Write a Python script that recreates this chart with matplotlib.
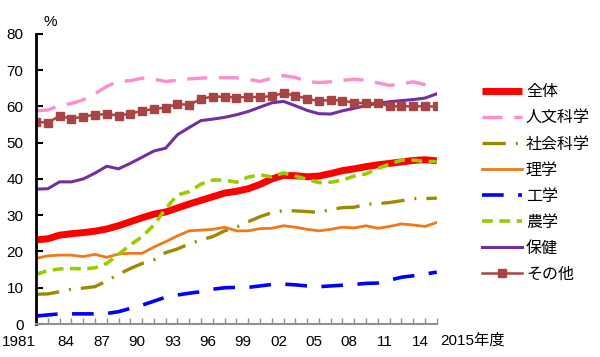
import matplotlib
matplotlib.use("Agg")
import matplotlib.pyplot as plt
import matplotlib.transforms as mtransforms
import numpy as np

plt.rcParams['font.family'] = ['Liberation Sans', 'Noto Sans CJK JP', 'DejaVu Sans']

# --- data ---
years = list(range(1981, 2016))

zentai = [23.2, 23.5, 24.5, 24.9, 25.2, 25.6, 26.2, 27.1, 28.2, 29.3,
          30.3, 30.9, 32.0, 33.1, 34.1, 35.1, 36.1, 36.6, 37.3, 38.5,
          40.0, 41.0, 40.9, 40.6, 40.8, 41.5, 42.3, 42.8, 43.4, 43.9,
          44.3, 44.7, 45.1, 45.3, 45.0]
jinbun = [58.8, 59.0, 60.3, 60.8, 61.8, 63.5, 65.5, 67.0, 67.1, 67.8,
          67.5, 66.9, 67.2, 67.6, 67.8, 68.0, 67.9, 67.9, 67.5, 66.9,
          67.8, 68.5, 68.0, 66.8, 66.6, 66.8, 67.2, 67.5, 67.2, 66.5,
          65.8, 66.2, 66.8, 66.0, 65.6]
shakai = [8.2, 8.3, 8.9, 9.6, 9.9, 10.3, 11.9, 13.7, 15.3, 16.7,
          17.7, 19.7, 20.7, 22.1, 23.2, 24.1, 25.7, 26.7, 28.2, 29.6,
          30.7, 31.3, 31.2, 31.0, 30.8, 31.6, 32.1, 32.2, 33.0, 33.2,
          33.5, 34.0, 34.6, 34.6, 34.7]
rigaku = [18.1, 18.8, 19.0, 19.0, 18.6, 19.2, 18.4, 19.3, 19.5, 19.5,
          21.2, 22.7, 24.3, 25.7, 25.9, 26.1, 26.7, 25.7, 25.7, 26.3,
          26.4, 27.1, 26.7, 26.1, 25.7, 26.1, 26.7, 26.5, 27.1, 26.4,
          26.9, 27.6, 27.3, 26.9, 28.0]
kogaku = [2.2, 2.5, 2.8, 2.8, 2.8, 2.8, 2.9, 3.4, 4.3, 5.2,
          6.3, 7.4, 8.0, 8.5, 8.9, 9.6, 10.0, 10.1, 10.1, 10.5,
          10.9, 11.0, 10.8, 10.5, 10.3, 10.5, 10.7, 10.9, 11.2, 11.3,
          12.1, 12.9, 13.3, 13.8, 14.3]
nogaku = [13.7, 14.7, 15.2, 15.3, 15.2, 15.5, 16.7, 19.2, 21.8, 24.1,
          27.3, 31.8, 35.6, 36.5, 38.6, 39.7, 39.7, 39.1, 40.5, 41.1,
          40.6, 41.7, 40.8, 39.9, 39.0, 39.1, 39.7, 40.8, 41.4, 42.9,
          44.1, 45.2, 45.2, 44.8, 44.8]
hoken = [37.2, 37.3, 39.2, 39.2, 40.0, 41.6, 43.5, 42.8, 44.3, 46.0,
         47.7, 48.5, 52.2, 54.2, 56.1, 56.5, 57.0, 57.7, 58.6, 59.8,
         61.0, 61.4, 60.2, 58.9, 58.0, 57.9, 58.8, 59.5, 60.2, 60.9,
         61.3, 61.6, 61.9, 62.3, 63.5]
sonota = [55.8, 55.5, 57.4, 56.6, 57.2, 57.7, 57.9, 57.5, 58.0, 58.8,
          59.3, 59.7, 60.7, 60.4, 62.1, 62.7, 62.7, 62.4, 62.7, 62.5,
          62.9, 63.6, 63.0, 62.1, 61.5, 61.8, 61.6, 61.0, 60.9, 60.9,
          60.1, 60.0, 60.1, 60.0, 60.0]

labels = ['全体', '人文科学', '社会科学', '理学', '工学', '農学', '保健', 'その他']
tick_years = list(range(1981, 2015, 3))
tick_labels = ['1981'] + [f'{y % 100:02d}' for y in tick_years[1:]]

# --- figure ---
fig = plt.figure(figsize=(6.0, 3.57), dpi=100)
ax = fig.add_axes([0.06, 0.0924, 0.668, 0.8126])

ax.plot(years, zentai, color='#ff0000', lw=5.0, solid_capstyle='butt', label=labels[0])
ax.plot(years, jinbun, color='#ff8ccc', lw=2.4, dashes=(6, 3.5), label=labels[1])
ax.plot(years, shakai, color='#9c8a00', lw=2.4, dashes=(7, 3, 0.6, 3), label=labels[2])
ax.plot(years, rigaku, color='#f07818', lw=2.0, label=labels[3])
ax.plot(years, kogaku, color='#0000ff', lw=2.6, dashes=(6, 4), label=labels[4])
ax.plot(years, nogaku, color='#99cc00', lw=2.6, dashes=(3, 1.8), label=labels[5])
ax.plot(years, hoken, color='#7030a0', lw=2.2, label=labels[6])
ax.plot(years, sonota, color='#a94444', lw=1.8, marker='s', markersize=6,
        label=labels[7])

ax.set_xlim(1981, 2015)
ax.set_ylim(0, 80)
ax.set_yticks(range(0, 81, 10))
ax.set_xticks(tick_years)
ax.set_xticklabels(tick_labels)
ax.set_xticks(years, minor=True)

for side in ['top', 'right']:
    ax.spines[side].set_visible(False)
ax.spines['left'].set_linewidth(2.0)
ax.spines['left'].set_color('black')
ax.spines['bottom'].set_linewidth(1.5)
ax.spines['bottom'].set_color('#909090')

ax.tick_params(axis='y', direction='in', length=5, width=1.5, labelsize=11, pad=9)
ax.tick_params(axis='x', which='both', direction='in', length=4, width=1,
               color='#909090', labelsize=11, pad=8)

# labels sit a little left of their ticks, the first one ends at the axis
xlabels = ax.get_xticklabels()
shift = mtransforms.ScaledTranslation(-5 / 100, 0, fig.dpi_scale_trans)
for lab in xlabels[1:]:
    lab.set_transform(lab.get_transform() + shift)
xlabels[0].set_horizontalalignment('right')

fig.text(50 / 600, 1 - 22 / 357, '%', fontsize=11, ha='center', va='center')
fig.text(440 / 600, 1 - 340 / 357, '2015年度', fontsize=11, ha='left', va='center')

fig.legend(loc='upper left', bbox_to_anchor=(0.79, 0.789), frameon=False,
           handlelength=2.5, handletextpad=0.25,
           labelspacing=0.57, borderpad=0,
           prop={'family': ['Noto Sans CJK JP'], 'size': 11.5})

fig.savefig('out.png', dpi=100)
